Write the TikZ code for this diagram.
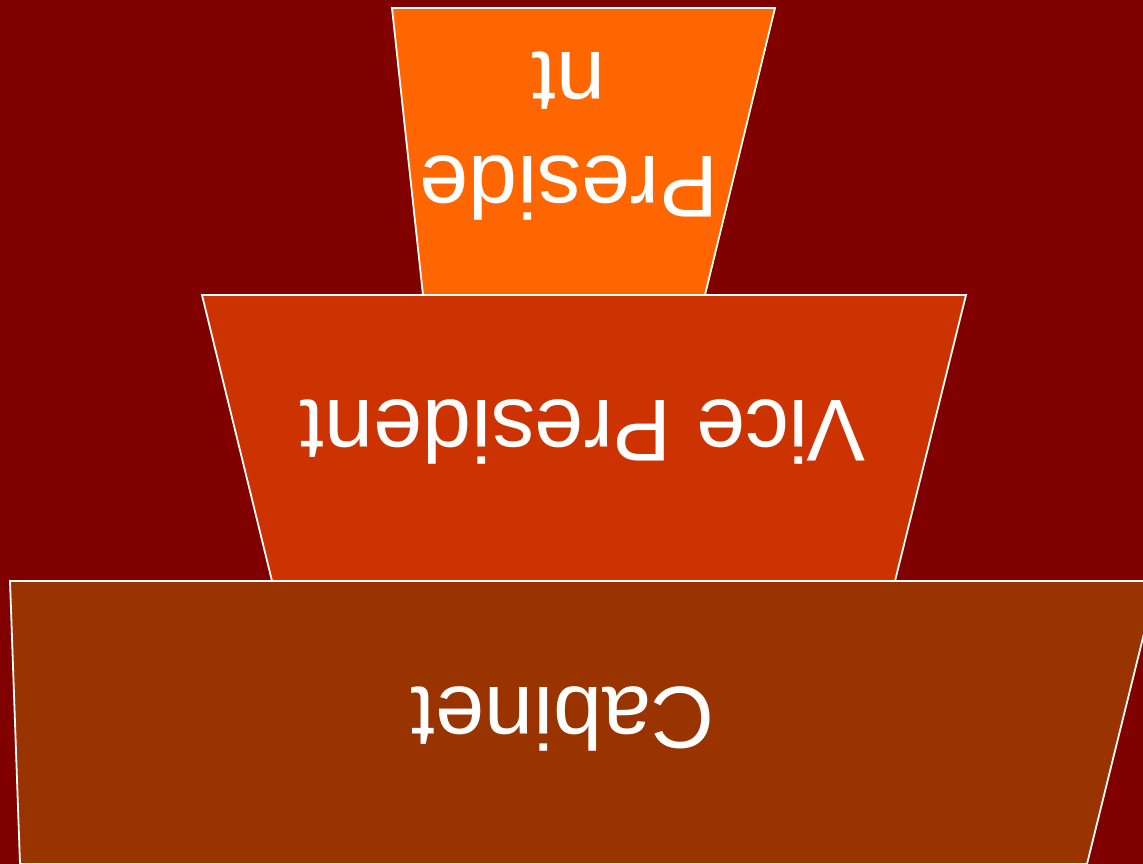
\documentclass[tikz,border=0pt]{standalone}
\usepackage{fontspec}
\setmainfont{Liberation Sans}
\definecolor{bgred}{HTML}{800000}
\definecolor{tierA}{HTML}{FF6600}
\definecolor{tierB}{HTML}{CC3300}
\definecolor{tierC}{HTML}{993300}
\tikzset{
  tier/.style={draw=white, line width=1.8pt, line join=miter},
  label/.style={text=white, rotate=180, inner sep=0pt, align=center,
    font=\fontsize{88}{104}\selectfont}
}
\begin{document}
\begin{tikzpicture}[x=1pt, y=-1pt]
\fill[bgred] (0,0) rectangle (1143,864);
\useasboundingbox (0,0) rectangle (1143,864);
\begin{scope}
\clip (0,0) rectangle (1143,864);
\filldraw[tier, fill=tierC] (10,581) -- (1157,581) -- (1087,864) -- (20,864) -- cycle;
\filldraw[tier, fill=tierB] (202,295) -- (966,295) -- (895,581) -- (272,581) -- cycle;
\filldraw[tier, fill=tierA] (392,8) -- (775,8) -- (705,295) -- (423,295) -- cycle;
\end{scope}
\node[label] (pres) at (569,136) {Preside\\nt};
\node[label] (vice) at (583,432) {Vice President};
\node[label] (cab) at (563,719) {Cabinet};
\end{tikzpicture}
\end{document}
